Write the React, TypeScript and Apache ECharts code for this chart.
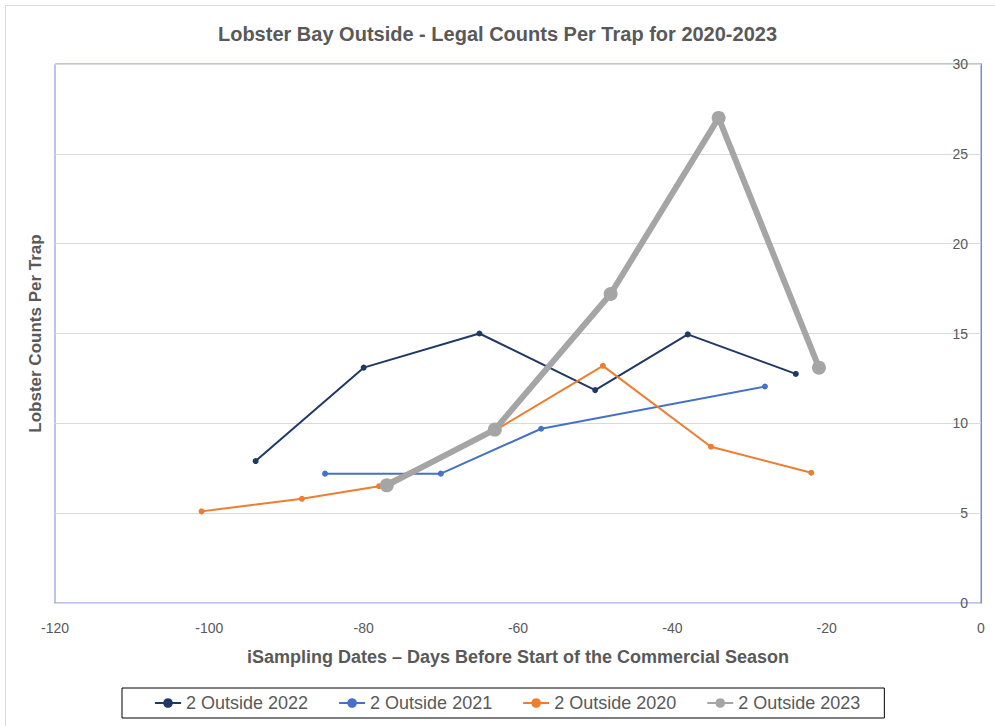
import React, { useEffect, useRef } from "react";
import * as echarts from "echarts";

const xTicks = { min: -120, max: 0, interval: 20 };
const yTicks = { min: 0, max: 30, interval: 5 };

const seriesNames = ["2 Outside 2022", "2 Outside 2021", "2 Outside 2020", "2 Outside 2023"];

const days2022 = [-94, -80, -65, -50, -38, -24];
const counts2022 = [7.9, 13.1, 15.0, 11.85, 14.95, 12.75];

const days2021 = [-85, -70, -57, -28];
const counts2021 = [7.2, 7.2, 9.7, 12.05];

const days2020 = [-101, -88, -78, -63, -49, -35, -22];
const counts2020 = [5.1, 5.8, 6.5, 9.6, 13.2, 8.7, 7.25];

const days2023 = [-77, -63, -48, -34, -21];
const counts2023 = [6.55, 9.65, 17.2, 27.0, 13.1];

const pair = (xs: number[], ys: number[]) => xs.map((x, i) => [x, ys[i]]);

const FONT = "'Liberation Sans', Arial, sans-serif";
const TXT = "#595959";

export default function App() {
  const ref = useRef<HTMLDivElement>(null);
  useEffect(() => {
    if (!ref.current) return;
    const chart = echarts.init(ref.current, undefined, { renderer: "svg" });
    const small = (name: string, xs: number[], ys: number[], color: string) => ({
      name,
      type: "line",
      data: pair(xs, ys),
      yAxisIndex: 1,
      symbol: "circle",
      symbolSize: 6,
      lineStyle: { color, width: 2 },
      itemStyle: { color },
    });
    chart.setOption({
      animation: false,
      backgroundColor: "#ffffff",
      textStyle: { fontFamily: FONT },
      title: {
        text: "Lobster Bay Outside - Legal Counts Per Trap for 2020-2023",
        left: "center",
        top: 19,
        textStyle: { fontFamily: FONT, fontSize: 20, fontWeight: "bold", color: TXT },
      },
      graphic: [
        {
          type: "rect",
          shape: { x: 5.5, y: 5.5, width: 1000, height: 730 },
          style: { fill: "none", stroke: "#d9d9d9", lineWidth: 1 },
          silent: true,
        },
      ],
      grid: {
        left: 55,
        top: 64,
        width: 926,
        height: 539,
        show: true,
        borderColor: "#6f8fd6",
        borderWidth: 1,
      },
      legend: {
        bottom: 8,
        left: 122,
        data: seriesNames,
        itemWidth: 26,
        itemHeight: 12,
        itemGap: 30,
        borderColor: "#000000",
        borderWidth: 1,
        padding: [6, 24, 6, 32],
        textStyle: { fontFamily: FONT, fontSize: 18, color: TXT },
      },
      xAxis: {
        type: "value",
        min: xTicks.min,
        max: xTicks.max,
        interval: xTicks.interval,
        name: "iSampling Dates \u2013 Days Before Start of the Commercial Season",
        nameLocation: "middle",
        nameGap: 45,
        nameTextStyle: { fontFamily: FONT, fontSize: 18, fontWeight: "bold", color: TXT },
        axisLine: { show: true, lineStyle: { color: "#d9d9d9", width: 1 } },
        axisTick: { show: false },
        splitLine: { show: false },
        axisLabel: { fontFamily: FONT, fontSize: 14, color: TXT, margin: 18 },
      },
      yAxis: [
        {
          type: "value",
          position: "left",
          min: yTicks.min,
          max: yTicks.max,
          interval: yTicks.interval,
          name: "Lobster Counts Per Trap",
          nameLocation: "middle",
          nameGap: 11,
          nameRotate: 90,
          nameTextStyle: { fontFamily: FONT, fontSize: 17, fontWeight: "bold", color: TXT },
          axisLine: { show: true, lineStyle: { color: "#6f8fd6", width: 1 } },
          axisTick: { show: false },
          axisLabel: { show: false },
          splitLine: { show: true, lineStyle: { color: "#d9d9d9", width: 1 } },
        },
        {
          type: "value",
          position: "right",
          min: yTicks.min,
          max: yTicks.max,
          interval: yTicks.interval,
          axisLine: { show: true, lineStyle: { color: "#6f8fd6", width: 1 } },
          axisTick: { show: false },
          splitLine: { show: false },
          axisLabel: {
            inside: true,
            margin: 13,
            fontFamily: FONT,
            fontSize: 14,
            color: TXT,
          },
        },
      ],
      series: [
        small(seriesNames[0], days2022, counts2022, "#203864"),
        small(seriesNames[1], days2021, counts2021, "#4472C4"),
        small(seriesNames[2], days2020, counts2020, "#ED7D31"),
        {
          name: seriesNames[3],
          type: "line",
          data: pair(days2023, counts2023),
          yAxisIndex: 1,
          symbol: "circle",
          symbolSize: 14,
          lineStyle: { color: "#A5A5A5", width: 6 },
          itemStyle: { color: "#A5A5A5" },
          z: 5,
        },
      ],
    });
    return () => chart.dispose();
  }, []);
  return (
    <div
      ref={ref}
      style={{ position: "fixed", left: 0, top: 0, width: 995, height: 726 }}
    />
  );
}
